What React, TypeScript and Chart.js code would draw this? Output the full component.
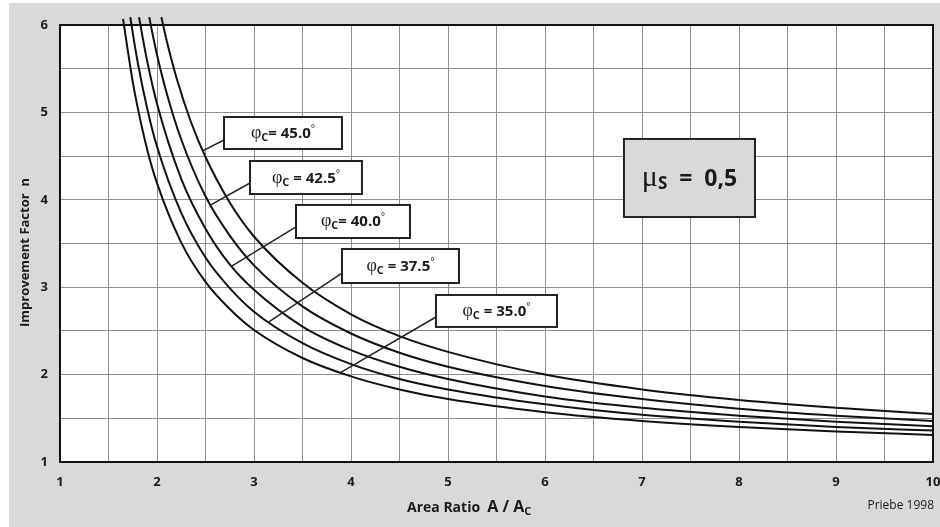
import { useEffect, useRef } from 'react';
import { Chart, registerables } from 'chart.js';

Chart.register(...registerables);

// Improvement factor n against area ratio A / Ac, one curve per friction angle φc (μs = 0,5)
const areaRatio35 = [1.65, 1.75, 1.8, 1.9, 2, 2.25, 2.5, 2.75, 3, 3.5, 4, 4.5, 5, 6, 7, 8, 9, 10];
const factor35 = [6.07, 5.35, 5.06, 4.57, 4.19, 3.51, 3.06, 2.75, 2.51, 2.19, 1.98, 1.83, 1.72, 1.57, 1.47, 1.4, 1.35, 1.31];

const areaRatio375 = [1.725, 1.75, 1.8, 1.9, 2, 2.25, 2.5, 2.75, 3, 3.5, 4, 4.5, 5, 6, 7, 8, 9, 10];
const factor375 = [6.09, 5.91, 5.58, 5.04, 4.61, 3.85, 3.34, 2.99, 2.72, 2.36, 2.12, 1.95, 1.83, 1.66, 1.54, 1.46, 1.4, 1.36];

const areaRatio40 = [1.815, 1.85, 1.9, 2, 2.25, 2.5, 2.75, 3, 3.5, 4, 4.5, 5, 6, 7, 8, 9, 10];
const factor40 = [6.09, 5.87, 5.58, 5.1, 4.24, 3.67, 3.26, 2.97, 2.55, 2.28, 2.09, 1.95, 1.75, 1.62, 1.53, 1.46, 1.41];

const areaRatio425 = [1.92, 1.95, 2, 2.1, 2.25, 2.5, 2.75, 3, 3.5, 4, 4.5, 5, 6, 7, 8, 9, 10];
const factor425 = [6.09, 5.92, 5.66, 5.22, 4.69, 4.04, 3.59, 3.25, 2.78, 2.47, 2.25, 2.09, 1.87, 1.72, 1.61, 1.53, 1.47];

const areaRatio45 = [2.045, 2.1, 2.2, 2.35, 2.5, 2.75, 3, 3.5, 4, 4.5, 5, 6, 7, 8, 9, 10];
const factor45 = [6.09, 5.82, 5.4, 4.89, 4.49, 3.97, 3.58, 3.05, 2.69, 2.44, 2.26, 2.0, 1.83, 1.71, 1.62, 1.55];

const frictionAngles = ['45.0', '42.5', '40.0', '37.5', '35.0'];
const equalsText = ['= ', ' = ', '= ', ' = ', ' = '];
const poissonRatio = '0,5';

const xTitle = 'Area Ratio  ';
const yTitle = 'Improvement Factor  n';
const sourceNote = 'Priebe 1998';

// Callout boxes in data units: [left, top, right, bottom], leader from box edge to the curve
const callouts = [
  { box: [2.691, 4.947, 3.907, 4.581], from: [2.691, 4.684], to: [2.47, 4.56] },
  { box: [2.959, 4.444, 4.113, 4.066], from: [2.959, 4.192], to: [2.55, 3.94] },
  { box: [3.433, 3.941, 4.608, 3.563], from: [3.433, 3.689], to: [2.77, 3.24] },
  { box: [3.907, 3.437, 5.113, 3.048], from: [3.907, 3.162], to: [3.15, 2.6] },
  { box: [4.876, 2.911, 6.124, 2.545], from: [4.876, 2.659], to: [3.887, 2.02] },
];
const poissonBox = [6.814, 4.696, 8.165, 3.803];

const FONT = '"Open Sans", Lato, sans-serif';
const GREEK = '"Liberation Serif", "DejaVu Serif", serif';

type Run = { text: string; font: string; dy?: number };

function measureRuns(ctx: CanvasRenderingContext2D, runs: Run[]) {
  return runs.map((r) => {
    ctx.font = r.font;
    return ctx.measureText(r.text).width;
  });
}

function drawRuns(ctx: CanvasRenderingContext2D, runs: Run[], cx: number, baseline: number) {
  const widths = measureRuns(ctx, runs);
  const total = widths.reduce((s, w) => s + w, 0);
  let x = cx - total / 2;
  ctx.textAlign = 'left';
  ctx.textBaseline = 'alphabetic';
  runs.forEach((r, i) => {
    ctx.font = r.font;
    ctx.fillText(r.text, x, baseline + (r.dy || 0));
    x += widths[i];
  });
}

const decorPlugin = {
  id: 'priebeDecor',
  beforeDraw(chart: any) {
    const { ctx, chartArea: a, width, height } = chart;
    ctx.save();
    ctx.fillStyle = '#ffffff';
    ctx.fillRect(0, 0, width, height);
    ctx.fillStyle = '#d9d9d9';
    ctx.fillRect(9, 3, width - 9, height - 3);
    ctx.fillStyle = '#ffffff';
    ctx.fillRect(a.left, a.top, a.right - a.left, a.bottom - a.top);
    ctx.restore();
  },
  afterDraw(chart: any) {
    const { ctx, chartArea: a } = chart;
    const xs = chart.scales.x;
    const ys = chart.scales.y;
    const px = (v: number) => xs.getPixelForValue(v);
    const py = (v: number) => ys.getPixelForValue(v);
    ctx.save();

    // plot frame
    ctx.strokeStyle = '#111111';
    ctx.lineWidth = 2;
    ctx.strokeRect(a.left, a.top, a.right - a.left, a.bottom - a.top);

    // callouts
    callouts.forEach((c, i) => {
      const [l, t, r, b] = c.box;
      ctx.strokeStyle = '#222222';
      ctx.lineWidth = 1.5;
      ctx.beginPath();
      ctx.moveTo(px(c.from[0]), py(c.from[1]));
      ctx.lineTo(px(c.to[0]), py(c.to[1]));
      ctx.stroke();
      const bx = px(l), by = py(t), bw = px(r) - px(l), bh = py(b) - py(t);
      ctx.fillStyle = '#ffffff';
      ctx.fillRect(bx, by, bw, bh);
      ctx.lineWidth = 2;
      ctx.strokeRect(bx, by, bw, bh);
      ctx.fillStyle = '#1a1a1a';
      drawRuns(
        ctx,
        [
          { text: 'φ', font: `18px ${GREEK}` },
          { text: 'C', font: `bold 11px ${FONT}`, dy: 3 },
          { text: equalsText[i] + frictionAngles[i], font: `bold 15px ${FONT}` },
          { text: '°', font: `10px ${FONT}`, dy: -6 },
        ],
        bx + bw / 2,
        by + bh / 2 + 5
      );
    });

    // friction coefficient box
    {
      const [l, t, r, b] = poissonBox;
      const bx = px(l), by = py(t), bw = px(r) - px(l), bh = py(b) - py(t);
      ctx.fillStyle = '#d9d9d9';
      ctx.fillRect(bx, by, bw, bh);
      ctx.strokeStyle = '#222222';
      ctx.lineWidth = 2;
      ctx.strokeRect(bx, by, bw, bh);
      ctx.fillStyle = '#1a1a1a';
      drawRuns(
        ctx,
        [
          { text: 'μ', font: `30px ${GREEK}` },
          { text: 'S', font: `bold 17px ${FONT}`, dy: 3 },
          { text: '  =  ' + poissonRatio, font: `bold 23px ${FONT}` },
        ],
        bx + bw / 2,
        by + bh / 2 + 8
      );
    }

    // axis titles and source note
    ctx.fillStyle = '#1a1a1a';
    const runs: Run[] = [
      { text: xTitle, font: `bold 14px ${FONT}` },
      { text: 'A / A', font: `bold 16px ${FONT}` },
      { text: 'C', font: `bold 11px ${FONT}`, dy: 3 },
    ];
    const total = measureRuns(ctx, runs).reduce((s, w) => s + w, 0);
    drawRuns(ctx, runs, a.left + 347 + total / 2, 512);

    ctx.font = `12px ${FONT}`;
    ctx.textAlign = 'right';
    ctx.textBaseline = 'alphabetic';
    ctx.fillText(sourceNote, a.right + 1, 509);

    ctx.translate(29, (a.top + a.bottom) / 2 + 9);
    ctx.rotate(-Math.PI / 2);
    ctx.font = `bold 13px ${FONT}`;
    ctx.textAlign = 'center';
    ctx.fillText(yTitle, 0, 0);
    ctx.restore();
  },
};

function series(xs: number[], ys: number[]) {
  return xs.map((x, i) => ({ x, y: ys[i] }));
}

export default function App() {
  const ref = useRef<HTMLCanvasElement | null>(null);

  useEffect(() => {
    document.body.style.margin = '0';
    const canvas = ref.current;
    if (!canvas) return;
    const curve = (xs: number[], ys: number[]) => ({
      data: series(xs, ys),
      borderColor: '#111111',
      borderWidth: 2,
      pointRadius: 0,
      fill: false,
      cubicInterpolationMode: 'monotone' as const,
      clip: false as any,
    });
    const tickFont = { family: FONT, size: 13, weight: 'bold' as const };
    const chart = new Chart(canvas, {
      type: 'line',
      data: {
        datasets: [
          curve(areaRatio35, factor35),
          curve(areaRatio375, factor375),
          curve(areaRatio40, factor40),
          curve(areaRatio425, factor425),
          curve(areaRatio45, factor45),
        ],
      },
      options: {
        animation: false,
        responsive: false,
        devicePixelRatio: 1,
        layout: { padding: { top: 25, right: 7, left: 0, bottom: 0 } },
        plugins: { legend: { display: false }, tooltip: { enabled: false } },
        scales: {
          x: {
            type: 'linear',
            min: 1,
            max: 10,
            afterFit: (s: any) => {
              s.height = 65;
              s.paddingLeft = 0;
              s.paddingRight = 0;
            },
            grid: { color: '#8f8f8f', lineWidth: 1, drawTicks: false },
            border: { display: false },
            ticks: {
              stepSize: 0.5,
              autoSkip: false,
              maxRotation: 0,
              padding: 12,
              color: '#1a1a1a',
              font: tickFont,
              callback: (v: any) => (Number.isInteger(v) ? String(v) : ''),
            },
          },
          y: {
            type: 'linear',
            min: 1,
            max: 6,
            afterFit: (s: any) => {
              s.width = 60;
              s.paddingTop = 0;
              s.paddingBottom = 0;
            },
            grid: { color: '#8f8f8f', lineWidth: 1, drawTicks: false },
            border: { display: false },
            ticks: {
              stepSize: 0.5,
              autoSkip: false,
              padding: 12,
              color: '#1a1a1a',
              font: tickFont,
              callback: (v: any) => (Number.isInteger(v) ? String(v) : ''),
            },
          },
        },
      },
      plugins: [decorPlugin],
    });
    return () => chart.destroy();
  }, []);

  return <canvas ref={ref} width={940} height={527} style={{ display: 'block' }} />;
}
